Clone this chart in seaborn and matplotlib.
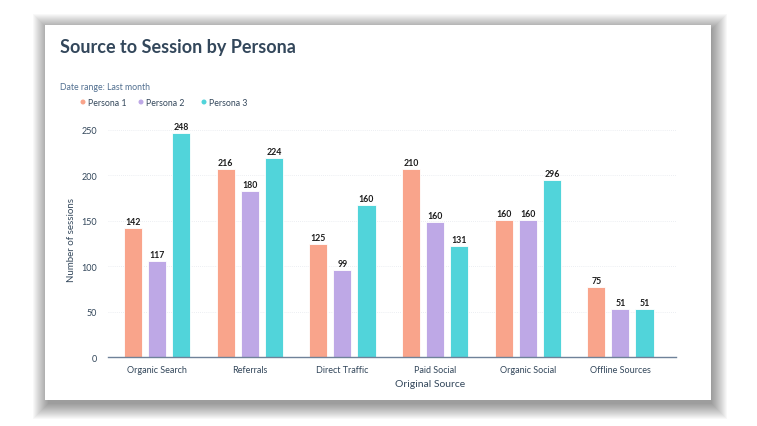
import matplotlib
matplotlib.use("Agg")
import matplotlib.pyplot as plt
import seaborn as sns
import pandas as pd
from matplotlib.patches import Rectangle, Ellipse

sources = ["Organic Search", "Referrals", "Direct Traffic", "Paid Social", "Organic Social", "Offline Sources"]
personas = ["Persona 1", "Persona 2", "Persona 3"]
# bar heights as drawn
persona1 = [142, 207, 124, 207, 151, 77]
persona2 = [106, 183, 96, 149, 151, 53]
persona3 = [247, 219, 167, 122, 195, 53]
# data labels as printed
labels1 = ["142", "216", "125", "210", "160", "75"]
labels2 = ["117", "180", "99", "160", "160", "51"]
labels3 = ["248", "224", "160", "131", "296", "51"]
yticks = [0, 50, 100, 150, 200, 250]

colors = ["#F9A48B", "#BEA8E6", "#51D4DA"]

rows = []
for p, vals in zip(personas, [persona1, persona2, persona3]):
    for s, v in zip(sources, vals):
        rows.append({"Source": s, "Persona": p, "Sessions": v})
df = pd.DataFrame(rows)

sns.set_theme(style="white")
plt.rcParams["font.family"] = ["Lato", "DejaVu Sans"]

W, H = 757, 427
fig = plt.figure(figsize=(W / 100, H / 100), dpi=100)
fig.patch.set_facecolor("white")

# card shadow
cx0, cy0, cx1, cy1 = 45, 26, 711, 401
for i in range(16, 0, -1):
    fig.patches.append(Rectangle(((cx0 - i + 4) / W, 1 - (cy1 + i + 3) / H),
                                 (cx1 - cx0 + 2 * i - 4) / W, (cy1 - cy0 + 2 * i - 2) / H,
                                 transform=fig.transFigure, facecolor="black", edgecolor="none",
                                 alpha=0.026, zorder=0))
fig.patches.append(Rectangle((cx0 / W, 1 - cy1 / H), (cx1 - cx0) / W, (cy1 - cy0) / H,
                             transform=fig.transFigure, facecolor="white", edgecolor="none", zorder=1))

ax_l, ax_r, ax_t, ax_b = 108, 676, 122, 358
ax = fig.add_axes([ax_l / W, 1 - ax_b / H, (ax_r - ax_l) / W, (ax_b - ax_t) / H])
ax.set_zorder(2)
ax.patch.set_alpha(0)

sns.barplot(data=df, x="Source", y="Sessions", hue="Persona", palette=colors,
            width=0.78, gap=0.25, ax=ax, legend=False, saturation=1, edgecolor="white", linewidth=0.6)

for cont, labs in zip(ax.containers, [labels1, labels2, labels3]):
    ax.bar_label(cont, labels=labs, padding=1.5, fontsize=6.3, color="#1d1d1d", fontweight="bold")

ax.set_ylim(0, 250 * (358 - 122) / (358 - 131))
ax.set_xlim(-0.53, 5.6)
ax.set_yticks(yticks)
ax.set_yticklabels([str(t) for t in yticks])
ax.tick_params(axis="y", length=0, labelsize=6.5, labelcolor="#33475B", pad=8)
ax.tick_params(axis="x", length=0, labelsize=6.5, labelcolor="#33475B", pad=6)
ax.grid(axis="y", color="#E6E9EE", linestyle=(0, (1, 1.5)), linewidth=0.6)
ax.set_axisbelow(True)
for sp in ["top", "right", "left"]:
    ax.spines[sp].set_visible(False)
ax.spines["bottom"].set_color("#6F8299")
ax.spines["bottom"].set_linewidth(1.0)
ax.set_xlabel("")
ax.set_ylabel("Number of sessions", fontsize=7, color="#33475B", labelpad=4)

fig.text(430 / W, 1 - 385 / H, "Original Source", fontsize=7.5, color="#33475B",
         ha="center", va="center", zorder=3)
fig.text(60 / W, 1 - 48 / H, "Source to Session by Persona", fontsize=13, fontweight="bold",
         color="#33475B", ha="left", va="center", zorder=3)
fig.text(60 / W, 1 - 88 / H, "Date range: Last month", fontsize=6.3, color="#516F90",
         ha="left", va="center", zorder=3)

leg_x = [83, 141, 204]
for lx, p, c in zip(leg_x, personas, colors):
    fig.patches.append(Ellipse((lx / W, 1 - 103 / H), 5 / W, 5 / H,
                               transform=fig.transFigure, facecolor=c,
                               edgecolor="none", zorder=3))
    fig.text((lx + 5) / W, 1 - 103 / H, p, fontsize=6.3, color="#33475B",
             ha="left", va="center", zorder=3)

fig.savefig("out.png", dpi=100, facecolor="white")
